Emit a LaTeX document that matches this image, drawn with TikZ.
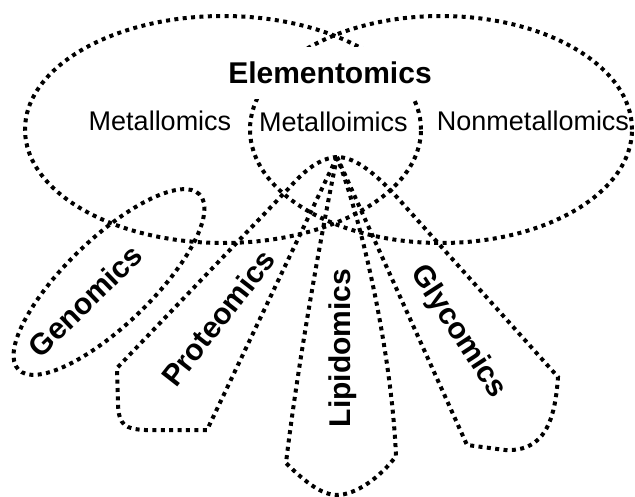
\documentclass[tikz,border=0pt]{standalone}
\usepackage{fontspec}
\setmainfont{Liberation Sans}
\begin{document}
\begin{tikzpicture}[x=1pt,y=-1pt,
  dots/.style={line width=4pt, dash pattern=on 4pt off 4.4pt},
  reg/.style={font=\fontsize{27}{32}\selectfont, inner sep=0pt},
  bld/.style={font=\fontsize{30}{36}\selectfont\bfseries, inner sep=0pt}]
\useasboundingbox (0,0) rectangle (635,496);
% Venn ellipses
\draw[dots] (223,129.5) ellipse [x radius=198pt, y radius=113.5pt];
\draw[dots] (441,129.5) ellipse [x radius=191pt, y radius=113.5pt];
\fill[white] (252,47) rectangle (418,99);
\node[bld] (elem) at (330,73) {Elementomics};
\node[reg] (metal) at (160,121) {Metallomics};
\node[reg] (metalloi) at (333.5,122) {Metalloimics};
\node[reg] (nonmetal) at (533,121) {Nonmetallomics};
% petals
\coordinate (apex) at (337,157);
% Genomics
\draw[dots, rotate around={44:(109,282)}] (109,282) ellipse [x radius=126pt, y radius=43pt];
% Proteomics
\draw[dots] (apex) .. controls (320,158) and (305,170) .. (290,187) -- (117,368) -- (118,405)
  .. controls (119,425) and (125,429) .. (145,430) -- (207,430) -- cycle;
% Lipidomics
\draw[dots] (apex) .. controls (320,240) and (297,370) .. (286,463)
  .. controls (305,482) and (322,495) .. (337,495)
  .. controls (355,495) and (380,478) .. (396,456)
  .. controls (392,360) and (365,230) .. (apex);
% Glycomics
\draw[dots] (apex) -- (467,445) -- (505,450) .. controls (545,452) and (555,420) .. (558,377)
  -- (395,195) .. controls (370,168) and (352,157) .. (apex);
\node[bld, rotate=44] (geno) at (85,301) {Genomics};
\node[bld, rotate=52] (prot) at (218,318) {Proteomics};
\node[bld, rotate=90] (lipi) at (342.5,348) {Lipidomics};
\node[bld, rotate=-57] (glyc) at (458,332) {Glycomics};
\end{tikzpicture}
\end{document}
